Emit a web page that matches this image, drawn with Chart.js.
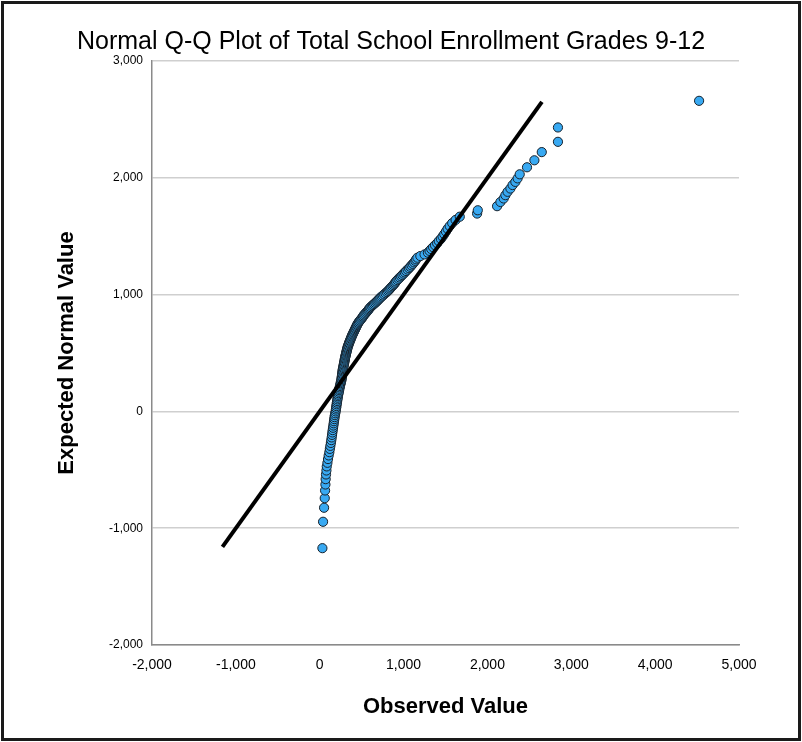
<!DOCTYPE html>
<html>
<head>
<meta charset="utf-8">
<title>Normal Q-Q Plot</title>
<script src="https://cdn.jsdelivr.net/npm/chart.js@4.4.1/dist/chart.umd.min.js"></script>
<style>
  html, body { margin: 0; padding: 0; background: #ffffff; }
  #wrap { width: 802px; height: 742px; }
  canvas { display: block; }
</style>
</head>
<body>
<div id="wrap"><canvas id="qq" width="802" height="742"></canvas></div>
<script>
// Texts
const chartTitle = 'Normal Q-Q Plot of Total School Enrollment Grades 9-12';
const xAxisTitle = 'Observed Value';
const yAxisTitle = 'Expected Normal Value';

// Axis ticks
const xTickValues = [-2000, -1000, 0, 1000, 2000, 3000, 4000, 5000];
const yTickValues = [-2000, -1000, 0, 1000, 2000, 3000];

// Observed enrollment (sorted) and the matching expected normal value
const observed = [
  32, 40, 52, 60, 64, 68, 71, 75, 80, 84, 92, 99, 107, 115,
  121, 127, 133, 138, 143, 147, 151, 155, 159, 163, 167, 170, 174, 177, 181, 185,
  190, 193, 196, 199, 202, 205, 208, 211, 214, 217, 220, 224, 228, 231, 234, 238, 242, 246, 250, 254,
  258, 260, 262, 264, 266, 268, 270, 272, 274, 276, 279, 282, 285, 287, 290, 293, 296, 298, 300, 303,
  306, 309, 312, 315, 318, 321, 324, 327, 330, 333, 338, 342, 347, 351, 356, 361, 366, 371, 376, 381,
  386, 392, 398, 404, 410, 416, 422, 428, 434, 440, 446, 452, 460, 468, 478, 488, 498, 508, 516, 524,
  534, 545, 556, 567, 577, 586, 596, 606, 620, 634, 648, 662, 676, 688, 700, 712, 724, 738, 752, 768,
  784, 800, 815, 828, 840, 852, 866, 878, 890, 900, 910, 925, 940, 955, 970, 985, 1000, 1015, 1030, 1048,
  1065, 1080, 1095, 1110, 1125, 1140, 1150, 1165, 1200, 1250, 1290, 1310, 1330, 1352, 1375, 1400, 1420, 1445, 1465, 1485,
  1505, 1525, 1550, 1580, 1620, 1670, 1877, 1885, 2115, 2155, 2194, 2214, 2240, 2274, 2300, 2333, 2360, 2385, 2472, 2560,
  2648, 2841, 2841, 4524
];
const expected = [
  -1171, -945, -825, -743, -677, -626, -580, -540, -506, -471, -440, -408, -377, -349,
  -321, -295, -270, -246, -223, -201, -180, -160, -140, -121, -102, -84, -66, -49, -32, -16,
  0, 16, 31, 46, 61, 75, 89, 103, 117, 130, 143, 156, 169, 182, 194, 206, 218, 230, 242, 254,
  265, 276, 287, 298, 309, 320, 331, 342, 352, 362, 372, 382, 392, 402, 412, 422, 432, 442, 452, 461,
  470, 479, 488, 497, 506, 515, 524, 533, 542, 551, 560, 569, 578, 587, 596, 605, 614, 623, 632, 641,
  650, 659, 668, 677, 686, 695, 704, 713, 722, 731, 740, 749, 758, 767, 776, 785, 794, 803, 812, 821,
  830, 839, 848, 857, 866, 875, 884, 893, 902, 911, 920, 929, 938, 947, 956, 965, 974, 983, 992, 1002,
  1012, 1022, 1032, 1042, 1052, 1062, 1072, 1082, 1092, 1102, 1113, 1124, 1135, 1146, 1157, 1168, 1179, 1190, 1202, 1214,
  1226, 1238, 1250, 1263, 1276, 1289, 1302, 1316, 1330, 1344, 1359, 1374, 1390, 1406, 1423, 1440, 1458, 1477, 1497, 1518,
  1540, 1563, 1587, 1612, 1639, 1667, 1694, 1722, 1757, 1793, 1823, 1851, 1880, 1908, 1938, 1965, 1995, 2030, 2090, 2150,
  2220, 2308, 2431, 2659
];

// Reference line y = x across the range of expected values
const refLineX = [-1160, 2650];
const refLineY = [-1160, 2650];

const FONT = '"Liberation Sans", Arial, Helvetica, sans-serif';
const fmt = v => Number(v).toLocaleString('en-US');

// Outer frame and the heading text
const framePlugin = {
  id: 'frame',
  beforeDraw(chart) {
    const c = chart.ctx;
    c.save();
    c.fillStyle = '#ffffff';
    c.fillRect(0, 0, chart.width, chart.height);
    c.restore();
  },
  afterDraw(chart) {
    const c = chart.ctx;
    c.save();
    c.strokeStyle = '#1a1a1a';
    c.lineWidth = 3;
    c.strokeRect(2.5, 2.5, chart.width - 5, chart.height - 5);
    c.fillStyle = '#000000';
    c.font = '25px ' + FONT;
    c.textAlign = 'left';
    c.textBaseline = 'middle';
    c.fillText(chartTitle, 77, 42);
    c.restore();
  }
};

new Chart(document.getElementById('qq'), {
  type: 'scatter',
  data: {
    datasets: [
      {
        type: 'line',
        data: refLineX.map((x, i) => ({ x: x, y: refLineY[i] })),
        borderColor: '#000000',
        borderWidth: 4,
        pointRadius: 0,
        fill: false,
        order: 0
      },
      {
        type: 'scatter',
        data: observed.map((x, i) => ({ x: x, y: expected[i] })),
        backgroundColor: '#38a9f2',
        borderColor: '#17222c',
        borderWidth: 1,
        pointRadius: 4.6,
        order: 1
      }
    ]
  },
  options: {
    responsive: false,
    animation: false,
    devicePixelRatio: 1,
    layout: { padding: { left: 10, right: 63, top: 61, bottom: 0 } },
    plugins: {
      legend: { display: false },
      tooltip: { enabled: false },
      title: { display: false }
    },
    scales: {
      x: {
        type: 'linear',
        min: -2000,
        max: 5000,
        afterBuildTicks: s => { s.ticks = xTickValues.map(v => ({ value: v })); },
        afterFit: s => { s.height = 97; },
        grid: { display: false, drawTicks: false },
        border: { display: true, color: '#8a8a8a', width: 1.5 },
        ticks: {
          padding: 12,
          color: '#000000',
          autoSkip: false,
          maxRotation: 0,
          font: { family: FONT, size: 14 },
          callback: v => fmt(v)
        },
        title: {
          display: true,
          text: xAxisTitle,
          color: '#000000',
          font: { family: FONT, size: 22, weight: 'bold' },
          padding: { top: 0, bottom: 22 }
        }
      },
      y: {
        type: 'linear',
        min: -2000,
        max: 3000,
        afterBuildTicks: s => { s.ticks = yTickValues.map(v => ({ value: v })); },
        afterFit: s => { s.width = 142; },
        grid: { color: '#cfcfcf', lineWidth: 1.5, drawTicks: false },
        border: { display: true, color: '#8a8a8a', width: 1.5 },
        ticks: {
          padding: 9,
          color: '#000000',
          font: { family: FONT, size: 12 },
          callback: v => fmt(v)
        },
        title: {
          display: true,
          text: yAxisTitle,
          color: '#000000',
          font: { family: FONT, size: 22, weight: 'bold' },
          padding: { top: 44, bottom: 0 }
        }
      }
    }
  },
  plugins: [framePlugin]
});
</script>
</body>
</html>
